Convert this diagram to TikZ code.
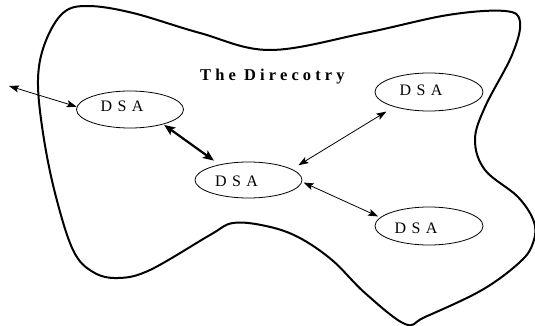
\documentclass[tikz,border=0pt]{standalone}
\usepackage{fontspec}
\setmainfont{Liberation Serif}
\usetikzlibrary{shapes.geometric,arrows.meta}

\newcommand{\dsatext}{{\fontsize{16}{18}\selectfont\addfontfeature{LetterSpace=34}DSA}}

\tikzset{
  blob/.style={line width=2pt, line join=round},
  dsa/.style={ellipse, draw, line width=0.8pt, minimum width=107pt,
              minimum height=37pt, inner sep=0pt},
  lbl/.style={inner sep=0pt},
  link/.style={line width=0.8pt,
               {Stealth[length=10pt,width=7pt,inset=2pt]}-{Stealth[length=10pt,width=7pt,inset=2pt]}},
  biglink/.style={line width=2.2pt,
               {Stealth[length=11pt,width=9pt,inset=2.5pt]}-{Stealth[length=11pt,width=9pt,inset=2.5pt]}},
  titletext/.style={inner sep=0pt, anchor=base west,
               font=\fontsize{16.5}{18}\selectfont\bfseries\addfontfeature{LetterSpace=25}}
}

\begin{document}
\begin{tikzpicture}[x=1pt, y=-1pt]
  \useasboundingbox (0,0) rectangle (535,326);

  % outline of the directory
  \draw[blob] plot[smooth cycle, tension=0.6] coordinates {
    (88,6) (133,13) (200,33) (270,50) (365,33) (448,15) (505,11)
    (520,22) (512,55) (485,107) (475,140) (485,170) (518,197)
    (534,222) (533,243) (520,262) (482,290) (425,317) (405,324)
    (365,293) (332,260) (298,237) (266,226) (233,223) (210,235)
    (150,270) (118,278) (93,272) (73,250) (55,193) (43,133)
    (38,80) (45,43) (63,13)};

  \node[titletext] (title) at (200,81) {The Direcotry};

  % directory system agents
  \node[dsa, label={[lbl, xshift=-8pt, yshift=3.5pt]center:\dsatext}] (e1) at (130,109.5) {};
  \node[dsa, minimum width=108pt, minimum height=38pt,
        label={[lbl, xshift=-8pt, yshift=2pt]center:\dsatext}] (e2) at (429,92) {};
  \node[dsa, minimum height=36pt,
        label={[lbl, xshift=-12pt, yshift=-1.5pt]center:\dsatext}] (c) at (248.5,180) {};
  \node[dsa, minimum width=108pt, minimum height=38pt,
        label={[lbl, xshift=-13pt, yshift=-2pt]center:\dsatext}] (e3) at (429,226) {};

  \coordinate (ext) at (9,86);

  % connections
  \draw[link] (ext) -- (e1.177);
  \draw[biglink, shorten <=1pt, shorten >=6.7pt] (e1.-24.8) -- (c.152.5);
  \draw[link, shorten <=7.5pt, shorten >=9pt] (c.14.8) -- (e2.-157.8);
  \draw[link, shorten <=1.6pt, shorten >=2.3pt] (c.-2.5) -- (e3.170.7);
\end{tikzpicture}
\end{document}
